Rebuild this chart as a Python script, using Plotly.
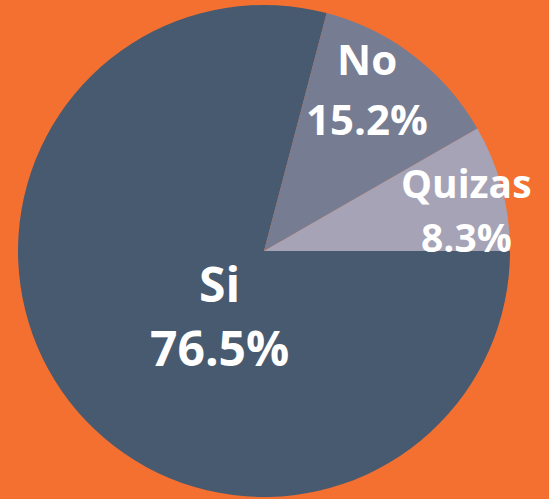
import plotly.graph_objects as go

labels = ["Si", "No", "Quizas"]
# slice sizes as drawn in the reference
slice_values = [79.1, 12.6, 8.3]
# percentages printed on the reference
pct_labels = [76.5, 15.2, 8.3]
colors = ["#485A6F", "#767C91", "#A5A3B5"]

# label placement (paper coords): (x, y of label line, y of percent line), font size
label_pos = {"Si": (0.399, 0.432, 0.304), "No": (0.668, 0.882, 0.7635), "Quizas": (0.849, 0.634, 0.526)}
label_size = {"Si": 48, "No": 42, "Quizas": 39}

fig = go.Figure(go.Pie(
    labels=labels, values=slice_values, sort=False, direction="clockwise",
    rotation=90, textinfo="none", hoverinfo="label",
    marker=dict(colors=colors, line=dict(width=0)),
    domain=dict(x=[0.0328, 0.929], y=[0.004, 0.99]),
    showlegend=False,
))

for lab, pct in zip(labels, pct_labels):
    x, y1, y2 = label_pos[lab]
    f = dict(family="Open Sans", size=label_size[lab], color="white", weight="bold")
    fig.add_annotation(x=x, y=y1, xref="paper", yref="paper", showarrow=False,
                       text=lab, font=f, xanchor="center", yanchor="middle")
    fig.add_annotation(x=x, y=y2, xref="paper", yref="paper", showarrow=False,
                       text=f"{pct:.1f}%", font=f, xanchor="center", yanchor="middle")

fig.update_layout(
    width=549, height=499, margin=dict(l=0, r=0, t=0, b=0),
    paper_bgcolor="#F47031", plot_bgcolor="#F47031",
)
fig.write_html("out.html", config={"displayModeBar": False},
               post_script="document.body.style.margin='0';document.body.style.background='#F47031';")
